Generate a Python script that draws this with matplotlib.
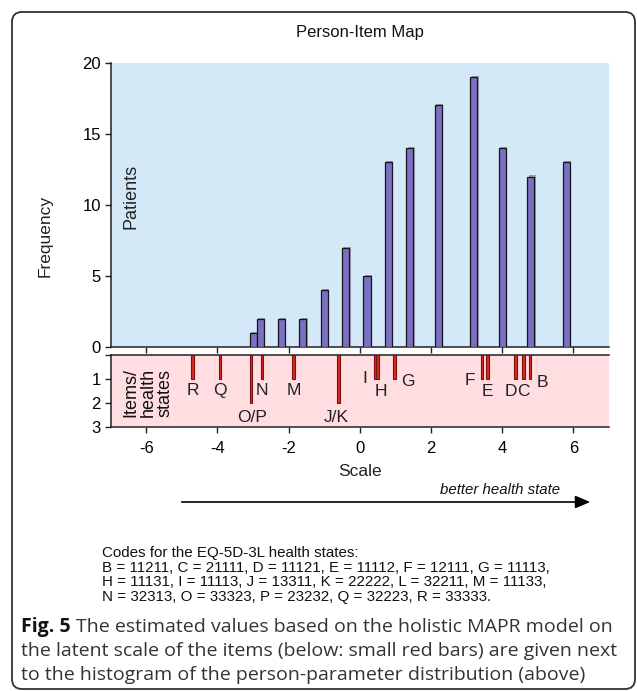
import matplotlib
matplotlib.use('Agg')
import matplotlib.pyplot as plt
from matplotlib.patches import FancyBboxPatch, FancyArrowPatch
import matplotlib.patheffects as pe

plt.rcParams['font.family'] = ['Liberation Sans', 'DejaVu Sans']

# ---------------- data ----------------
person_scale = [-3.0, -2.8, -2.2, -1.6, -1.0, -0.4, 0.2, 0.8, 1.4, 2.2, 3.2, 4.0, 4.8, 5.8]
person_freq = [1, 2, 2, 2, 4, 7, 5, 13, 14, 17, 19, 14, 12, 13]

item_labels = ['R', 'Q', 'O/P', 'N', 'M', 'J/K', 'I', 'H', 'G', 'F', 'E', 'D', 'C', 'B']
item_scale = [-4.70, -3.93, -3.06, -2.75, -1.87, -0.59, 0.43, 0.50, 0.97, 3.43, 3.59, 4.38, 4.59, 4.78]
item_level = [1, 1, 2, 1, 1, 2, 1, 1, 1, 1, 1, 1, 1, 1]

x_ticks = [-6, -4, -2, 0, 2, 4, 6]
freq_ticks = [0, 5, 10, 15, 20]
level_ticks = [0, 1, 2, 3]
level_ticklabels = ['', '1', '2', '3']

code_lines = [
    "Codes for the EQ-5D-3L health states:",
    "B = 11211, C = 21111, D = 11121, E = 11112, F = 12111, G = 11113,",
    "H = 11131, I = 11113, J = 13311, K = 22222, L = 32211, M = 11133,",
    "N = 32313, O = 33323, P = 23232, Q = 32223, R = 33333.",
]
caption_bold = "Fig. 5"
caption_lines = [
    "The estimated values based on the holistic MAPR model on",
    "the latent scale of the items (below: small red bars) are given next",
    "to the histogram of the person-parameter distribution (above)",
]

# label placement (layout only): offset from bar in x, and vertical position
label_dx = [0.0, 0.0, 0.03, 0.01, 0.01, -0.08, -0.29, 0.08, 0.37, -0.33, 0.0, -0.15, 0.0, 0.35]
label_y = [1.5, 1.5, 2.6, 1.5, 1.5, 2.6, 0.97, 1.52, 1.09, 1.07, 1.52, 1.52, 1.52, 1.14]

# ---------------- layout ----------------
W, H = 637, 691
fig = plt.figure(figsize=(W / 100, H / 100), dpi=100)


def fx(px):
    return px / W


def fy(py):
    return 1 - py / H


L, R = 110.7, 609.0
ax1 = fig.add_axes([fx(L), fy(347.3), fx(R) - fx(L), fy(62.7) - fy(347.3)])
ax2 = fig.add_axes([fx(L), fy(426.7), fx(R) - fx(L), fy(355.0) - fy(426.7)])

# ---------------- top: person histogram ----------------
ax1.set_facecolor('#d4e9f7')
ax1.bar(person_scale, person_freq, width=0.2, color='#7b70c4', edgecolor='#151515',
        linewidth=0.9, zorder=3,
        path_effects=[pe.withSimplePatchShadow(offset=(1.0, 0.8), shadow_rgbFace='#606060', alpha=0.55)])
ax1.set_xlim(-7, 7)
ax1.set_ylim(0, 20)
ax1.set_xticks(x_ticks)
ax1.set_xticklabels([])
ax1.set_yticks(freq_ticks)
ax1.set_yticklabels([str(v) for v in freq_ticks], fontsize=12)
for s in ['top', 'right']:
    ax1.spines[s].set_visible(False)
for s in ['left', 'bottom']:
    ax1.spines[s].set_color('#222222')
    ax1.spines[s].set_linewidth(1.1)
ax1.tick_params(direction='out', length=4, width=1, color='#222222', pad=3)
ax1.text(-6.42, 10.6, 'Patients', rotation=90, ha='center', va='center', fontsize=13, color='#222222')

# ---------------- bottom: items ----------------
ax2.set_facecolor('#ffdde0')
ax2.bar(item_scale, item_level, width=0.08, color='#dd2a1c', edgecolor='#7a1010',
        linewidth=0.8, zorder=3)
ax2.set_xlim(-7, 7)
ax2.set_ylim(3, 0)
ax2.set_xticks(x_ticks)
ax2.set_xticklabels([str(v) for v in x_ticks], fontsize=12)
ax2.set_yticks(level_ticks)
ax2.set_yticklabels(level_ticklabels, fontsize=12)
ax2.spines['right'].set_visible(False)
for s in ['left', 'bottom', 'top']:
    ax2.spines[s].set_color('#222222')
    ax2.spines[s].set_linewidth(1.1)
ax2.tick_params(direction='out', length=4, width=1, color='#222222', pad=3)
ax2.tick_params(axis='x', pad=6)
for lab, xs, dx, yy in zip(item_labels, item_scale, label_dx, label_y):
    ax2.text(xs + dx, yy, lab, ha='center', va='center', fontsize=12.5, color='#222222')
ax2.text(-5.95, 2.6, 'Items/\nhealth\nstates', rotation=90, ha='center', va='bottom',
         multialignment='left', linespacing=1.0, fontsize=13, color='#111111')

# ---------------- figure texts ----------------
fig.text(fx(360), fy(33), 'Person-Item Map', ha='center', va='center', fontsize=12, color='#111111')
fig.text(fx(45), fy(236), 'Frequency', rotation=90, ha='center', va='center', fontsize=12.5, color='#222222')
fig.text(fx(360), fy(472), 'Scale', ha='center', va='center', fontsize=12.5, color='#222222')
fig.text(fx(560), fy(490), 'better health state', ha='right', va='center', style='italic',
         fontsize=10.8, color='#111111')
arrow = FancyArrowPatch((fx(179), fy(502)), (fx(593), fy(502)), transform=fig.transFigure,
                        arrowstyle='-|>,head_length=0.9,head_width=0.38', mutation_scale=10,
                        lw=1.2, color='black')
fig.add_artist(arrow)

code_y0, code_dy = 553, 14.5
for i, line in enumerate(code_lines):
    fig.text(fx(102), fy(code_y0 + i * code_dy), line, ha='left', va='center', fontsize=10.9,
             color='#111111')

cap_font = ['Open Sans', 'DejaVu Sans']
cap_fs = 14.0
cap_y0, cap_dy = 627, 24
tb = fig.text(fx(21), fy(cap_y0), caption_bold, ha='left', va='center', fontsize=cap_fs,
              weight='bold', family=cap_font, color='#111111')
renderer = fig.canvas.get_renderer()
bb = tb.get_window_extent(renderer)
fig.text((bb.x1 + 5) / W, fy(cap_y0), caption_lines[0], ha='left', va='center', fontsize=cap_fs,
         family=cap_font, color='#333333')
for i, line in enumerate(caption_lines[1:], start=1):
    fig.text(fx(21), fy(cap_y0 + i * cap_dy), line, ha='left', va='center', fontsize=cap_fs,
             family=cap_font, color='#333333')

border = FancyBboxPatch((0.12, 0.02), 6.23, 6.77, boxstyle='round,pad=0,rounding_size=0.1',
                        transform=fig.dpi_scale_trans, fill=False, ec='#333333', lw=1.3)
fig.add_artist(border)

fig.savefig('out.png', dpi=100)
